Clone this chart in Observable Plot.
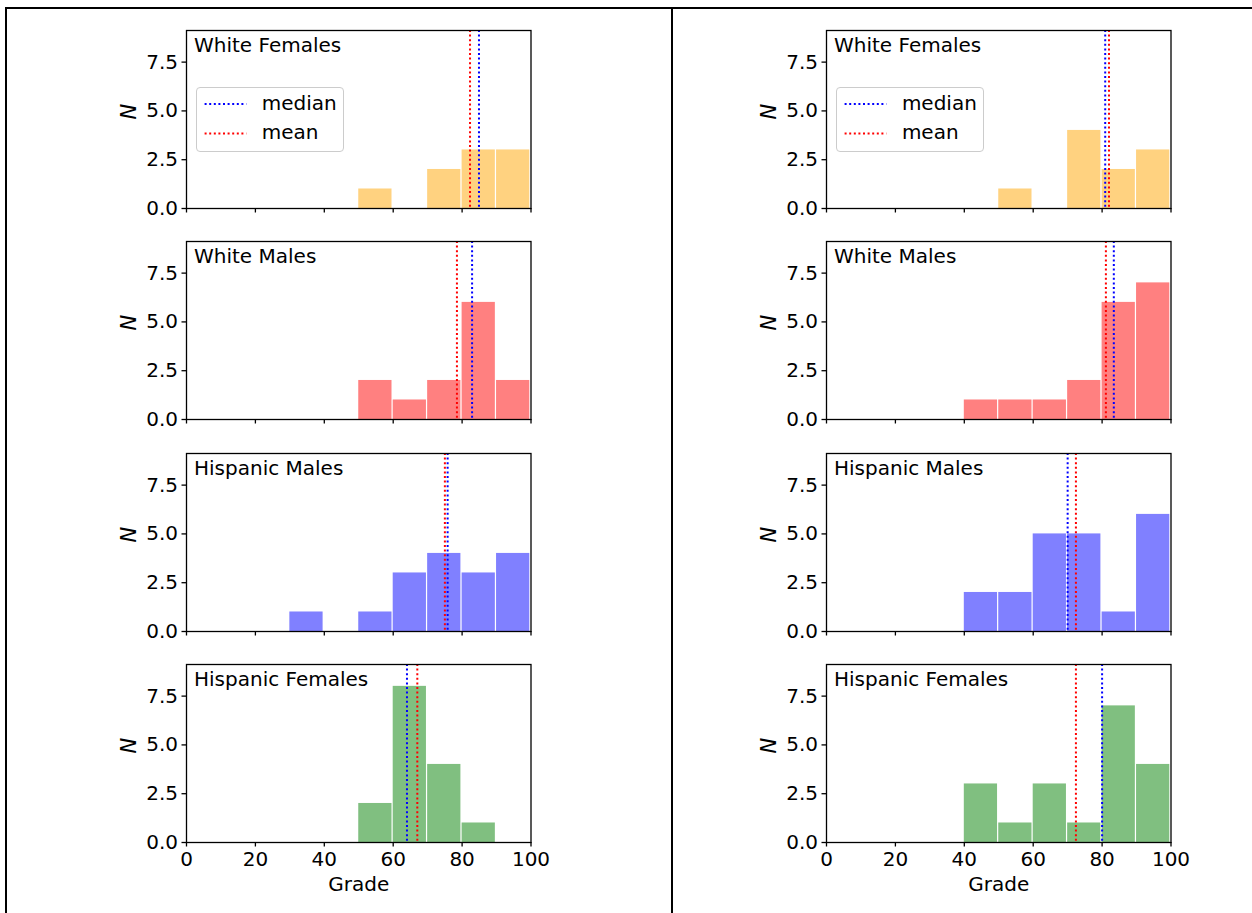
<!DOCTYPE html>
<html><head><meta charset="utf-8">
<script src="https://cdn.jsdelivr.net/npm/d3@7"></script>
<script src="https://cdn.jsdelivr.net/npm/@observablehq/plot@0.6"></script>
<style>
body{margin:0;background:#fff;}
#page{position:relative;width:1252px;height:913px;overflow:hidden;font-family:"DejaVu Sans",sans-serif;background:#fff;}
.panel{position:absolute;}
.panel svg{overflow:visible;}
.line{position:absolute;background:#000;}
.legend{position:absolute;box-sizing:border-box;border:1px solid #cccccc;border-radius:4px;background:rgba(255,255,255,0.8);font-family:"DejaVu Sans",sans-serif;font-size:20px;color:#000;}
.legend svg{position:absolute;left:0;top:0;}
.legend .lbl{position:absolute;white-space:nowrap;line-height:1;}
</style></head><body><div id="page"></div>
<script>
// ---- data ----
const groups = ["White Females", "White Males", "Hispanic Males", "Hispanic Females"];
const groupColors = ["#ffd280", "#ff8080", "#8080ff", "#80bf80"];
const binEdges = [0, 10, 20, 30, 40, 50, 60, 70, 80, 90, 100];
const xTicks = [0, 20, 40, 60, 80, 100];
const yTicks = [0, 2.5, 5, 7.5];
const legendLabels = ["median", "mean"];
const legendColors = ["blue", "red"];

// left column counts per 10-point bin
const leftWhiteFemales    = [0, 0, 0, 0, 0, 1, 0, 2, 3, 3];
const leftWhiteMales      = [0, 0, 0, 0, 0, 2, 1, 2, 6, 2];
const leftHispanicMales   = [0, 0, 0, 1, 0, 1, 3, 4, 3, 4];
const leftHispanicFemales = [0, 0, 0, 0, 0, 2, 8, 4, 1, 0];
const leftMedians = [84.9, 82.9, 75.8, 64.0];
const leftMeans   = [82.3, 78.5, 75.0, 67.0];

// right column counts per 10-point bin
const rightWhiteFemales    = [0, 0, 0, 0, 0, 1, 0, 4, 2, 3];
const rightWhiteMales      = [0, 0, 0, 0, 1, 1, 1, 2, 6, 7];
const rightHispanicMales   = [0, 0, 0, 0, 2, 2, 5, 5, 1, 6];
const rightHispanicFemales = [0, 0, 0, 0, 3, 1, 3, 1, 7, 4];
const rightMedians = [80.9, 83.4, 70.0, 80.0];
const rightMeans   = [82.0, 81.1, 72.4, 72.4];

// ---- layout ----
const page = document.getElementById("page");
const ML = 90, MR = 30, MT = 10, PW = 344.5, PH = 178;
const FS = 20;
const colX0 = [185.5, 825.7];
const rowTop = [30, 241.3, 452.6, 664];

function addLine(left, top, width, height) {
  const d = document.createElement("div");
  d.className = "line";
  Object.assign(d.style, {left: left + "px", top: top + "px", width: width + "px", height: height + "px"});
  page.appendChild(d);
}
addLine(5, 7, 1247, 2);
addLine(5, 7, 2, 906);
addLine(671, 7, 2, 906);

function panel(counts, color, title, median, mean, isBottom, x0, top) {
  const bins = counts.map((n, i) => ({x1: binEdges[i], x2: binEdges[i + 1], n})).filter(d => d.n > 0);
  const MB = isBottom ? 60 : 10;
  const chart = Plot.plot({
    width: ML + PW + MR,
    height: MT + PH + MB,
    marginLeft: ML, marginRight: MR, marginTop: MT, marginBottom: MB,
    style: {fontFamily: "DejaVu Sans", fontSize: FS + "px", color: "black", background: "transparent"},
    x: {domain: [0, 100]},
    y: {domain: [0, 9.12]},
    marks: [
      Plot.rectY(bins, {x1: "x1", x2: "x2", y: "n", fill: color, insetRight: 1.2}),
      Plot.ruleX([median], {x: d => d, stroke: "blue", strokeWidth: 2, strokeDasharray: "2,2.6"}),
      Plot.ruleX([mean], {x: d => d, stroke: "red", strokeWidth: 2, strokeDasharray: "2,2.6"}),
      Plot.frame({stroke: "black", strokeWidth: 1.3}),
      Plot.axisY({ticks: yTicks, tickFormat: d3.format(".1f"), tickSize: 4.5, tickPadding: 4, strokeWidth: 1.3, label: null, fontSize: FS}),
      Plot.axisX({ticks: xTicks, tickSize: 4.5, tickPadding: 5, strokeWidth: 1.3, label: null, fontSize: FS,
        tickFormat: isBottom ? (d => String(d)) : (() => "")}),
      Plot.text([title], {text: d => d, frameAnchor: "top-left", dx: 7.5, dy: 7.5, textAnchor: "start", lineAnchor: "top", fontSize: FS}),
      Plot.text(["N"], {text: d => d, frameAnchor: "left", dx: -57, rotate: -90, fontStyle: "italic", fontSize: FS + 1, lineAnchor: "middle"}),
      isBottom ? Plot.text(["Grade"], {text: d => d, frameAnchor: "bottom", dy: 42, lineAnchor: "middle", fontSize: FS}) : null
    ]
  });
  const wrap = document.createElement("div");
  wrap.className = "panel";
  wrap.style.left = (x0 - ML) + "px";
  wrap.style.top = (top - MT) + "px";
  wrap.appendChild(chart);
  page.appendChild(wrap);
}

function legend(x0, top) {
  const box = document.createElement("div");
  box.className = "legend";
  Object.assign(box.style, {left: (x0 + 10.2) + "px", top: (top + 56.7) + "px", width: "148px", height: "65px"});
  const ys = [16, 45.6];
  let svg = '<svg width="148" height="65">';
  legendColors.forEach((c, i) => {
    svg += `<line x1="7.6" x2="49.3" y1="${ys[i]}" y2="${ys[i]}" stroke="${c}" stroke-width="2" stroke-dasharray="2,2.6"/>`;
  });
  svg += '</svg>';
  box.innerHTML = svg + legendLabels.map((t, i) =>
    `<div class="lbl" style="left:65px;top:${ys[i] - 11}px">${t}</div>`).join("");
  page.appendChild(box);
}

const leftCounts = [leftWhiteFemales, leftWhiteMales, leftHispanicMales, leftHispanicFemales];
const rightCounts = [rightWhiteFemales, rightWhiteMales, rightHispanicMales, rightHispanicFemales];
const columns = [
  {counts: leftCounts, medians: leftMedians, means: leftMeans},
  {counts: rightCounts, medians: rightMedians, means: rightMeans}
];
columns.forEach((col, c) => {
  groups.forEach((g, r) => {
    panel(col.counts[r], groupColors[r], g, col.medians[r], col.means[r], r === 3, colX0[c], rowTop[r]);
  });
  legend(colX0[c], rowTop[0]);
});
</script>
</body></html>
